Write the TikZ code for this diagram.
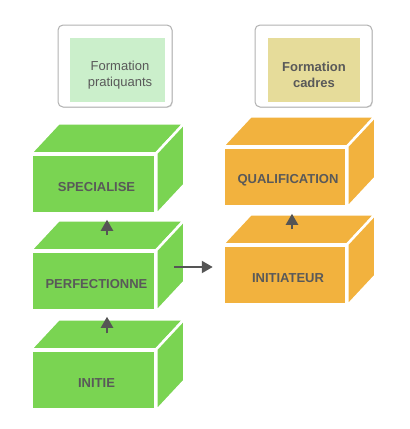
\documentclass[tikz,border=0pt]{standalone}
\usepackage{fontspec}
\setmainfont{Liberation Sans}
\usetikzlibrary{arrows.meta,shadows}
\definecolor{cgreen}{HTML}{7AD452}
\definecolor{corange}{HTML}{F2B23E}
\definecolor{lgreen}{HTML}{CBEFCB}
\definecolor{lyellow}{HTML}{E6DC9A}
\definecolor{tgray}{HTML}{595959}
\definecolor{agray}{HTML}{555555}
\tikzset{
  frontface/.style={rectangle, minimum width=123pt, minimum height=59pt, inner sep=0pt, draw=white, line width=2.5pt, fill=#1},
  sideface/.style={fill=#1, draw=white, line width=2.5pt, line join=miter},
  cubetext/.style={text=tgray, font=\bfseries\fontsize{13}{15}\selectfont, inner sep=0pt},
  outerbox/.style={rectangle, rounded corners=5pt, draw=black!30, line width=1pt, fill=white, inner sep=0pt,
    drop shadow={opacity=0.25, shadow xshift=0.8pt, shadow yshift=-0.8pt}},
  innerbox/.style={rectangle, inner sep=0pt, fill=#1},
  labeltext/.style={text=tgray, align=center, inner sep=0pt},
  arr/.style={draw=agray, line width=2.2pt, -{Triangle[length=11pt,width=12pt]}},
}
% \cuboid{name}{cx}{cy}{colour}{text}{width}
\newcommand{\cuboid}[6]{%
  \node[frontface=#4, minimum width=#6] (#1) at (#2,#3) {};
  \path[sideface=#4] (#1.north west) -- ++(28,-30) -- ([shift={(28pt,30pt)}]#1.north east) -- (#1.north east) -- cycle;
  \path[sideface=#4] (#1.north east) -- ++(28,-30) -- ([shift={(28pt,30pt)}]#1.south east) -- (#1.south east) -- cycle;
  \node[frontface=#4, minimum width=#6] at (#1.center) {};
  \node[cubetext] (#1-lbl) at ([shift={(3pt,-3.5pt)}]#1.center) {#5};
}
\begin{document}
\begin{tikzpicture}[x=1pt,y=-1pt]
\useasboundingbox (0,0) rectangle (410,429);

% header boxes
\node[outerbox, minimum width=114pt, minimum height=82pt] (pratout) at (115,66) {};
\node[innerbox=lgreen, minimum width=95pt, minimum height=64pt] (pratin) at (117.5,70) {};
\node[labeltext, font=\fontsize{13}{16}\selectfont] (prattxt) at (120,75) {Formation\\pratiquants};

\node[outerbox, minimum width=117pt, minimum height=82pt] (cadout) at (313.5,66) {};
\node[innerbox=lyellow, minimum width=92pt, minimum height=64pt] (cadin) at (314,70) {};
\node[labeltext, font=\bfseries\fontsize{13}{16}\selectfont] (cadtxt) at (314,75) {Formation\\cadres};

% cuboids
\cuboid{init}{93.5}{380}{cgreen}{INITIE}{123pt}
\cuboid{perf}{93.5}{281}{cgreen}{PERFECTIONNE}{123pt}
\cuboid{spec}{93.5}{184}{cgreen}{SPECIALISE}{123pt}
\cuboid{initr}{285}{275}{corange}{INITIATEUR}{122pt}
\cuboid{qual}{285}{177}{corange}{QUALIFICATION}{122pt}

% arrows
\draw[arr] ([shift={(13.5pt,16pt)}]init.north) -- ([shift={(13.5pt,-5pt)}]perf.south);
\draw[arr] ([shift={(13.5pt,15pt)}]perf.north) -- ([shift={(13.5pt,-5pt)}]spec.south);
\draw[arr] ([shift={(7pt,15pt)}]initr.north) -- ([shift={(7pt,-6pt)}]qual.south);
\draw[arr] ([shift={(18pt,14pt)}]perf.east) -- ([shift={(-10pt,8pt)}]initr.west);
\end{tikzpicture}
\end{document}
